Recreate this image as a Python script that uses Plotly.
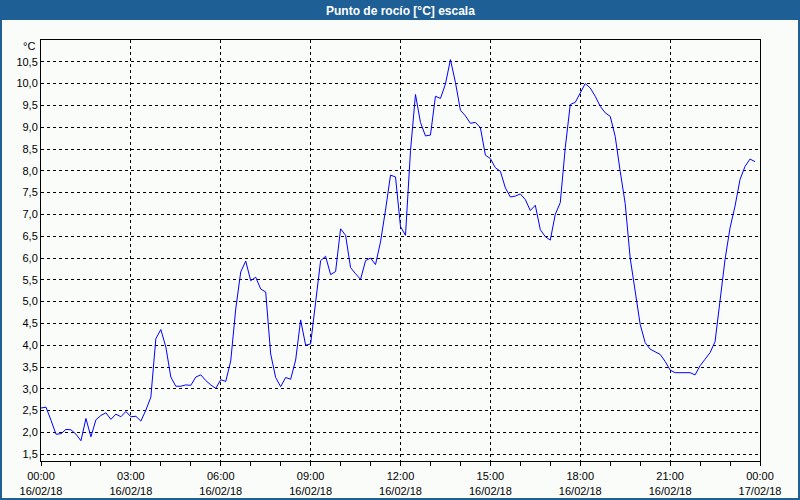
import plotly.graph_objects as go
import pandas as pd

# ---- data ----
start_time = "2018-02-16 00:00"
interval_minutes = 10
dew_point = [
    2.56, 2.58, 2.28, 1.96, 1.97, 2.07,
    2.06, 1.96, 1.81, 2.32, 1.90, 2.29,
    2.39, 2.45, 2.30, 2.42, 2.36, 2.48,
    2.36, 2.37, 2.26, 2.51, 2.81, 4.15,
    4.36, 3.96, 3.27, 3.06, 3.06, 3.09,
    3.08, 3.27, 3.32, 3.19, 3.09, 3.01,
    3.21, 3.17, 3.64, 4.83, 5.68, 5.93,
    5.48, 5.56, 5.29, 5.22, 3.80, 3.26,
    3.05, 3.26, 3.22, 3.66, 4.58, 4.00,
    4.03, 5.06, 5.94, 6.04, 5.62, 5.69,
    6.67, 6.52, 5.78, 5.64, 5.51, 5.94,
    6.00, 5.85, 6.37, 7.10, 7.90, 7.86,
    6.72, 6.52, 8.46, 9.75, 9.11, 8.80,
    8.82, 9.71, 9.66, 9.99, 10.55, 10.03,
    9.39, 9.26, 9.09, 9.11, 8.99, 8.36,
    8.28, 8.07, 7.99, 7.61, 7.40, 7.42,
    7.47, 7.34, 7.09, 7.21, 6.65, 6.49,
    6.41, 7.00, 7.27, 8.53, 9.52, 9.57,
    9.78, 10.00, 9.90, 9.71, 9.48, 9.33,
    9.25, 8.79, 7.99, 7.25, 6.00, 5.21,
    4.48, 4.06, 3.91, 3.85, 3.79, 3.63,
    3.43, 3.37, 3.37, 3.37, 3.37, 3.32,
    3.53, 3.68, 3.83, 4.08, 5.02, 5.97,
    6.69, 7.19, 7.80, 8.10, 8.27, 8.21,
]
x_tick_vals = ["2018-02-16 00:00", "2018-02-16 03:00", "2018-02-16 06:00",
               "2018-02-16 09:00", "2018-02-16 12:00", "2018-02-16 15:00",
               "2018-02-16 18:00", "2018-02-16 21:00", "2018-02-17 00:00"]
x_tick_time_text = ["00:00", "03:00", "06:00", "09:00", "12:00",
                    "15:00", "18:00", "21:00", "00:00"]
x_tick_date_text = ["16/02/18", "16/02/18", "16/02/18", "16/02/18", "16/02/18",
                    "16/02/18", "16/02/18", "16/02/18", "17/02/18"]
y_tick_vals = [1.5, 2.0, 2.5, 3.0, 3.5, 4.0, 4.5, 5.0, 5.5, 6.0,
               6.5, 7.0, 7.5, 8.0, 8.5, 9.0, 9.5, 10.0, 10.5]
y_tick_text = ["1,5", "2,0", "2,5", "3,0", "3,5", "4,0", "4,5", "5,0", "5,5", "6,0",
               "6,5", "7,0", "7,5", "8,0", "8,5", "9,0", "9,5", "10,0", "10,5"]
title_text = "Punto de rocío [°C] escala"
unit_text = "°C"
x_range = ["2018-02-16 00:00", "2018-02-17 00:00"]

times = pd.date_range(start_time, periods=len(dew_point), freq=f"{interval_minutes}min")

# ---- layout geometry (pixels) ----
W, H = 800, 500
L, R, T, B = 41, 40, 40, 39
PW, PH = W - L - R, H - T - B
def px(x):
    return (x - L) / PW
def py(y):
    return (H - B - y) / PH

BLUE = "#1E5F96"
BG = "#FAFCFA"
FONT = "Liberation Sans"
tickfont = dict(family=FONT, size=11, color="#000000")

fig = go.Figure()
# invisible carriers so the helper axes (date row, hourly ticks) are drawn
for ax in ("x2", "x3"):
    fig.add_trace(go.Scatter(x=times, y=dew_point, xaxis=ax, yaxis="y",
                             mode="lines", line=dict(color="rgba(0,0,0,0)", width=1),
                             hoverinfo="skip", showlegend=False))
fig.add_trace(go.Scatter(x=times, y=dew_point, mode="lines",
                         line=dict(color="#0000FF", width=1),
                         hoverinfo="skip", showlegend=False))

grid = dict(showgrid=True, gridcolor="#000000", gridwidth=1, griddash="3px,3px")

fig.update_layout(
    xaxis=dict(
        type="date", range=x_range,
        tickmode="array", tickvals=x_tick_vals, ticktext=x_tick_time_text,
        ticks="outside", ticklen=5, tickcolor="rgba(0,0,0,0)", tickwidth=1,
        automargin=False,
        showline=True, linecolor="#000000", linewidth=1, mirror=True,
        zeroline=False, tickfont=tickfont,
        **grid,
    ),
    xaxis2=dict(
        type="date", range=x_range, overlaying="x", anchor="y", side="bottom",
        tickmode="array", tickvals=x_tick_vals, ticktext=x_tick_date_text,
        ticks="outside", ticklen=20, tickcolor="rgba(0,0,0,0)", tickwidth=1,
        showticklabels=True, showgrid=False, showline=False, zeroline=False,
        automargin=False, tickfont=tickfont,
    ),
    xaxis3=dict(
        type="date", range=x_range, overlaying="x", anchor="y", side="bottom",
        tickmode="linear", tick0=x_range[0], dtick=3600000,
        ticks="outside", ticklen=4, tickcolor="#000000", tickwidth=1,
        showticklabels=False, showgrid=False, showline=False, zeroline=False,
        automargin=False,
    ),
    yaxis=dict(
        range=[1.345, 11.0],
        tickmode="array", tickvals=y_tick_vals, ticktext=y_tick_text,
        ticks="", showline=True, linecolor="#000000", linewidth=1, mirror=True,
        zeroline=False, automargin=False, tickfont=tickfont,
        **grid,
    ),
)

shapes = [
    # title bar
    dict(type="rect", xref="paper", yref="paper",
         x0=px(0), x1=px(W), y0=py(0), y1=py(20),
         fillcolor=BLUE, line=dict(width=0), layer="above"),
    # outer frame
    dict(type="rect", xref="paper", yref="paper",
         x0=px(1), x1=px(W - 1), y0=py(1), y1=py(H - 1),
         fillcolor="rgba(0,0,0,0)", line=dict(color=BLUE, width=2), layer="above"),
]

annotations = [
    dict(text=f"<b>{title_text}</b>", xref="paper", yref="paper",
         x=px(400), y=py(10.5), xanchor="center", yanchor="middle",
         showarrow=False, font=dict(family=FONT, size=12, color="#FFFFFF")),
    dict(text=unit_text, xref="paper", yref="paper",
         x=px(37), y=py(46), xanchor="right", yanchor="middle",
         showarrow=False, font=dict(family=FONT, size=11, color="#000000")),
]

fig.update_layout(
    width=W, height=H,
    margin=dict(l=L, r=R, t=T, b=B, pad=0, autoexpand=False),
    paper_bgcolor=BG, plot_bgcolor=BG,
    shapes=shapes, annotations=annotations,
    showlegend=False,
)

fig.write_html("out.html")
